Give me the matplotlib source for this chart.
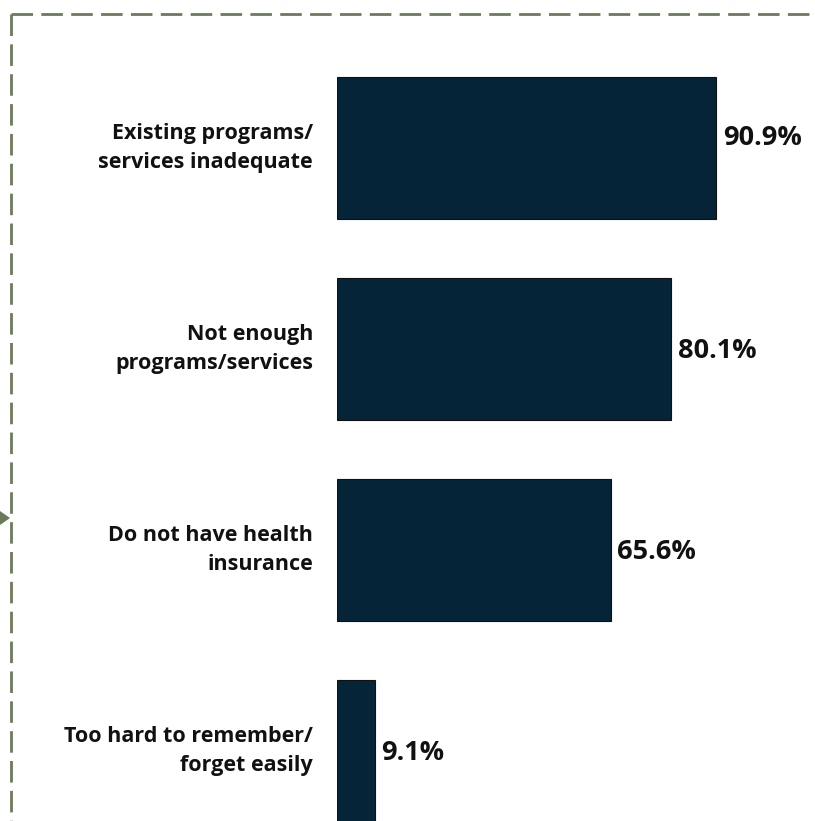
import matplotlib
matplotlib.use("Agg")
import matplotlib.pyplot as plt
from matplotlib.patches import Polygon

categories = ["Existing programs/\nservices inadequate",
              "Not enough\nprograms/services",
              "Do not have health\ninsurance",
              "Too hard to remember/\nforget easily"]
values = [90.9, 80.1, 65.6, 9.1]
value_labels = ["90.9%", "80.1%", "65.6%", "9.1%"]

plt.rcParams['font.family'] = ['Open Sans', 'DejaVu Sans']
plt.rcParams['lines.scale_dashes'] = False

W, H = 815, 821
fig = plt.figure(figsize=(W/100, H/100), dpi=100)
fig.patch.set_facecolor('white')

# overlay for border
ov = fig.add_axes([0, 0, 1, 1])
ov.set_xlim(0, W)
ov.set_ylim(H, 0)
ov.axis('off')
bc = '#6b7a5b'
ov.plot([11, W + 5], [14, 14], color=bc, lw=2.0, ls=(0, (15.5, 6)), solid_capstyle='butt')
ov.plot([11, 11], [14, H + 5], color=bc, lw=2.0, ls=(0, (15.5, 6)), solid_capstyle='butt')
ov.add_patch(Polygon([[0, 511], [10, 518], [0, 525]], closed=True, color=bc, lw=0))

left = 337 / W
ax = fig.add_axes([left, 0, 1 - left, 1])
ax.patch.set_alpha(0)
px_per = 4.17
ax.set_xlim(0, (W - 337) / px_per)
ypos = list(range(len(values)))
ax.set_ylim((H - 148) / 201, -148 / 201)
ax.barh(ypos, values, height=142 / 201, color='#062438', edgecolor='#111111', linewidth=0.8)
label_shift = [-0.05, 0.01, 0.01, 0.01]
for y, v, lab, s in zip(ypos, values, value_labels, label_shift):
    ax.text(v + 1.6, y + s, lab, va='center', ha='left', fontsize=19.5, fontweight='bold', color='#111111')
for y, c in zip(ypos, categories):
    ax.text(-24 / px_per, y, c, va='center', ha='right', fontsize=15.5, fontweight='bold',
            color='#111111', linespacing=1.55, clip_on=False)
ax.axis('off')

fig.savefig('out.png', dpi=100, facecolor='white')
